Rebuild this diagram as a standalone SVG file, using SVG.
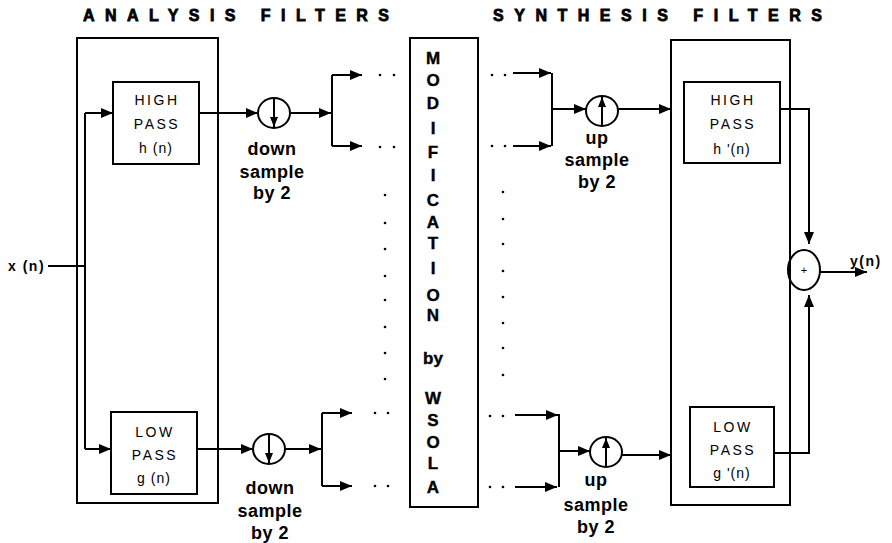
<svg xmlns="http://www.w3.org/2000/svg" width="892" height="543" viewBox="0 0 892 543">
<defs>
<marker id="ah" markerUnits="userSpaceOnUse" markerWidth="12" markerHeight="10" refX="12" refY="5" orient="auto"><path d="M0,0 L12,5 L0,10 z" fill="#000"/></marker>
<marker id="ahs" markerUnits="userSpaceOnUse" markerWidth="10" markerHeight="8" refX="10" refY="4" orient="auto"><path d="M0,0 L10,4 L0,8 z" fill="#000"/></marker>
<style>
.box{fill:none;stroke:#000;stroke-width:2}
.ln{fill:none;stroke:#000;stroke-width:2}
.ar{fill:none;stroke:#000;stroke-width:2;marker-end:url(#ah)}
.ari{fill:none;stroke:#000;stroke-width:2;marker-end:url(#ahs)}
.title{font-family:"Liberation Sans",Arial,sans-serif;font-weight:bold;font-size:16px;stroke:#000;stroke-width:0.8}
.flt{font-family:"Liberation Sans",Arial,sans-serif;font-size:14px;letter-spacing:2.5px;text-anchor:middle}
.fn{letter-spacing:1px}
.lbl{font-family:"Liberation Sans",Arial,sans-serif;font-weight:bold;font-size:18px;letter-spacing:0.5px;text-anchor:middle}
.mod{font-family:"Liberation Sans",Arial,sans-serif;font-weight:bold;font-size:17px;text-anchor:middle;stroke:#000;stroke-width:0.4}
.io{font-family:"Liberation Sans",Arial,sans-serif;font-weight:bold;font-size:14px;letter-spacing:1.5px}
.dot{fill:#000}
</style>
</defs>
<rect width="892" height="543" fill="#fff"/>

<g id="titles">
<text class="title" x="83" y="21" textLength="306" lengthAdjust="spacing">ANALYSIS FILTERS</text>
<text class="title" x="493" y="21" textLength="329" lengthAdjust="spacing">SYNTHESIS FILTERS</text>
</g>

<g id="analysis-box"><rect class="box" x="77" y="38" width="141" height="465"/></g>
<g id="input"><text class="io" x="8" y="271">x (n)</text></g>
<g id="hp-analysis">
<rect class="box" x="113" y="82" width="86" height="82"/>
<text class="flt" x="157" y="105">HIGH</text>
<text class="flt" x="157" y="129">PASS</text>
<text class="flt fn" x="156" y="153">h (n)</text>
</g>
<g id="lp-analysis">
<rect class="box" x="111" y="412" width="86" height="82"/>
<text class="flt" x="155" y="437">LOW</text>
<text class="flt" x="155" y="460">PASS</text>
<text class="flt fn" x="154" y="483">g (n)</text>
</g>
<g id="down-top">
<ellipse class="ln" cx="274" cy="113" rx="16" ry="15"/>
<text class="lbl" x="272" y="155">down</text>
<text class="lbl" x="272" y="178">sample</text>
<text class="lbl" x="272" y="199">by 2</text>
</g>
<g id="down-bottom">
<ellipse class="ln" cx="269" cy="449" rx="16" ry="15"/>
<text class="lbl" x="270" y="494">down</text>
<text class="lbl" x="270" y="517">sample</text>
<text class="lbl" x="270" y="539">by 2</text>
</g>
<g id="modification">
<rect class="box" x="410" y="38" width="68" height="469"/>
<text class="mod" x="433" y="64">M</text>
<text class="mod" x="433" y="86">O</text>
<text class="mod" x="433" y="109">D</text>
<text class="mod" x="433" y="134">I</text>
<text class="mod" x="433" y="158">F</text>
<text class="mod" x="433" y="181">I</text>
<text class="mod" x="433" y="206">C</text>
<text class="mod" x="433" y="228">A</text>
<text class="mod" x="433" y="249">T</text>
<text class="mod" x="433" y="274">I</text>
<text class="mod" x="433" y="301">O</text>
<text class="mod" x="433" y="321">N</text>
<text class="mod" x="433" y="364">by</text>
<text class="mod" x="433" y="404">W</text>
<text class="mod" x="433" y="426">S</text>
<text class="mod" x="433" y="448">O</text>
<text class="mod" x="433" y="469">L</text>
<text class="mod" x="433" y="493">A</text>
</g>
<g id="up-top">
<ellipse class="ln" cx="602" cy="111" rx="16" ry="15"/>
<text class="lbl" x="597" y="144">up</text>
<text class="lbl" x="597" y="166">sample</text>
<text class="lbl" x="597" y="188">by 2</text>
</g>
<g id="up-bottom">
<ellipse class="ln" cx="606" cy="452" rx="16" ry="15"/>
<text class="lbl" x="596" y="486">up</text>
<text class="lbl" x="596" y="511">sample</text>
<text class="lbl" x="596" y="533">by 2</text>
</g>
<g id="synthesis-box"><rect class="box" x="671" y="40" width="119" height="465"/></g>
<g id="hp-synthesis">
<rect class="box" x="684" y="82" width="96" height="81"/>
<text class="flt" x="733" y="105">HIGH</text>
<text class="flt" x="733" y="129">PASS</text>
<text class="flt fn" x="732" y="154">h '(n)</text>
</g>
<g id="lp-synthesis">
<rect class="box" x="690" y="407" width="84" height="80"/>
<text class="flt" x="733" y="432">LOW</text>
<text class="flt" x="733" y="455">PASS</text>
<text class="flt fn" x="732" y="478">g '(n)</text>
</g>
<g id="sum">
<ellipse class="ln" cx="804" cy="270" rx="16" ry="20"/>
<text x="804" y="274" font-family="Liberation Sans, Arial, sans-serif" font-size="11" text-anchor="middle">+</text>
</g>
<g id="output"><text class="io" x="850" y="266">y(n)</text></g>

<g id="connectors">
<polyline class="ln" points="48,266 85,266"/>
<polyline class="ar" points="85,113 113,113"/>
<polyline class="ln" points="85,113 85,449"/>
<polyline class="ar" points="85,449 111,449"/>
<polyline class="ar" points="199,113 258,113"/>
<polyline class="ari" points="274,99 274,127"/>
<polyline class="ar" points="290,113 331,113"/>
<polyline class="ln" points="332,75 332,146"/>
<polyline class="ar" points="332,75 362,75"/>
<polyline class="ar" points="332,146 362,146"/>
<polyline class="ar" points="197,449 253,449"/>
<polyline class="ari" points="269,435 269,463"/>
<polyline class="ar" points="285,449 321,449"/>
<polyline class="ln" points="322,413 322,486"/>
<polyline class="ar" points="322,413 352,413"/>
<polyline class="ar" points="322,486 352,486"/>
<polyline class="ar" points="513,73 551,73"/>
<polyline class="ln" points="552,73 552,146"/>
<polyline class="ar" points="513,146 551,146"/>
<polyline class="ar" points="552,109 586,109"/>
<polyline class="ari" points="602,125 602,97"/>
<polyline class="ar" points="618,109 671,109"/>
<polyline class="ar" points="515,415 558,415"/>
<polyline class="ln" points="559,414 559,487"/>
<polyline class="ar" points="515,487 557,487"/>
<polyline class="ar" points="559,451 590,451"/>
<polyline class="ari" points="606,467 606,438"/>
<polyline class="ar" points="622,455 671,455"/>
<polyline class="ar" points="780,109 809,109 809,244"/>
<polyline class="ar" points="774,453 809,453 809,295"/>
<polyline class="ar" points="820,272 867,272"/>
<g class="dot">
<circle cx="380" cy="75" r="1.3"/><circle cx="394" cy="75" r="1.3"/>
<circle cx="380" cy="147" r="1.3"/><circle cx="394" cy="147" r="1.3"/>
<circle cx="375" cy="413" r="1.3"/><circle cx="388" cy="413" r="1.3"/>
<circle cx="375" cy="486" r="1.3"/><circle cx="388" cy="486" r="1.3"/>
<circle cx="385" cy="195" r="1.3"/><circle cx="385" cy="223" r="1.3"/><circle cx="385" cy="249" r="1.3"/><circle cx="385" cy="276" r="1.3"/><circle cx="385" cy="300" r="1.3"/><circle cx="385" cy="327" r="1.3"/><circle cx="385" cy="353" r="1.3"/><circle cx="385" cy="379" r="1.3"/>
<circle cx="503" cy="192" r="1.3"/><circle cx="503" cy="219" r="1.3"/><circle cx="503" cy="244" r="1.3"/><circle cx="503" cy="271" r="1.3"/><circle cx="503" cy="297" r="1.3"/><circle cx="503" cy="323" r="1.3"/><circle cx="503" cy="348" r="1.3"/><circle cx="503" cy="375" r="1.3"/>
<circle cx="492" cy="75" r="1.3"/><circle cx="505" cy="75" r="1.3"/>
<circle cx="492" cy="146" r="1.3"/><circle cx="505" cy="146" r="1.3"/>
<circle cx="490" cy="416" r="1.3"/><circle cx="503" cy="416" r="1.3"/>
<circle cx="490" cy="487" r="1.3"/><circle cx="503" cy="487" r="1.3"/>
</g>
</g>
</svg>
